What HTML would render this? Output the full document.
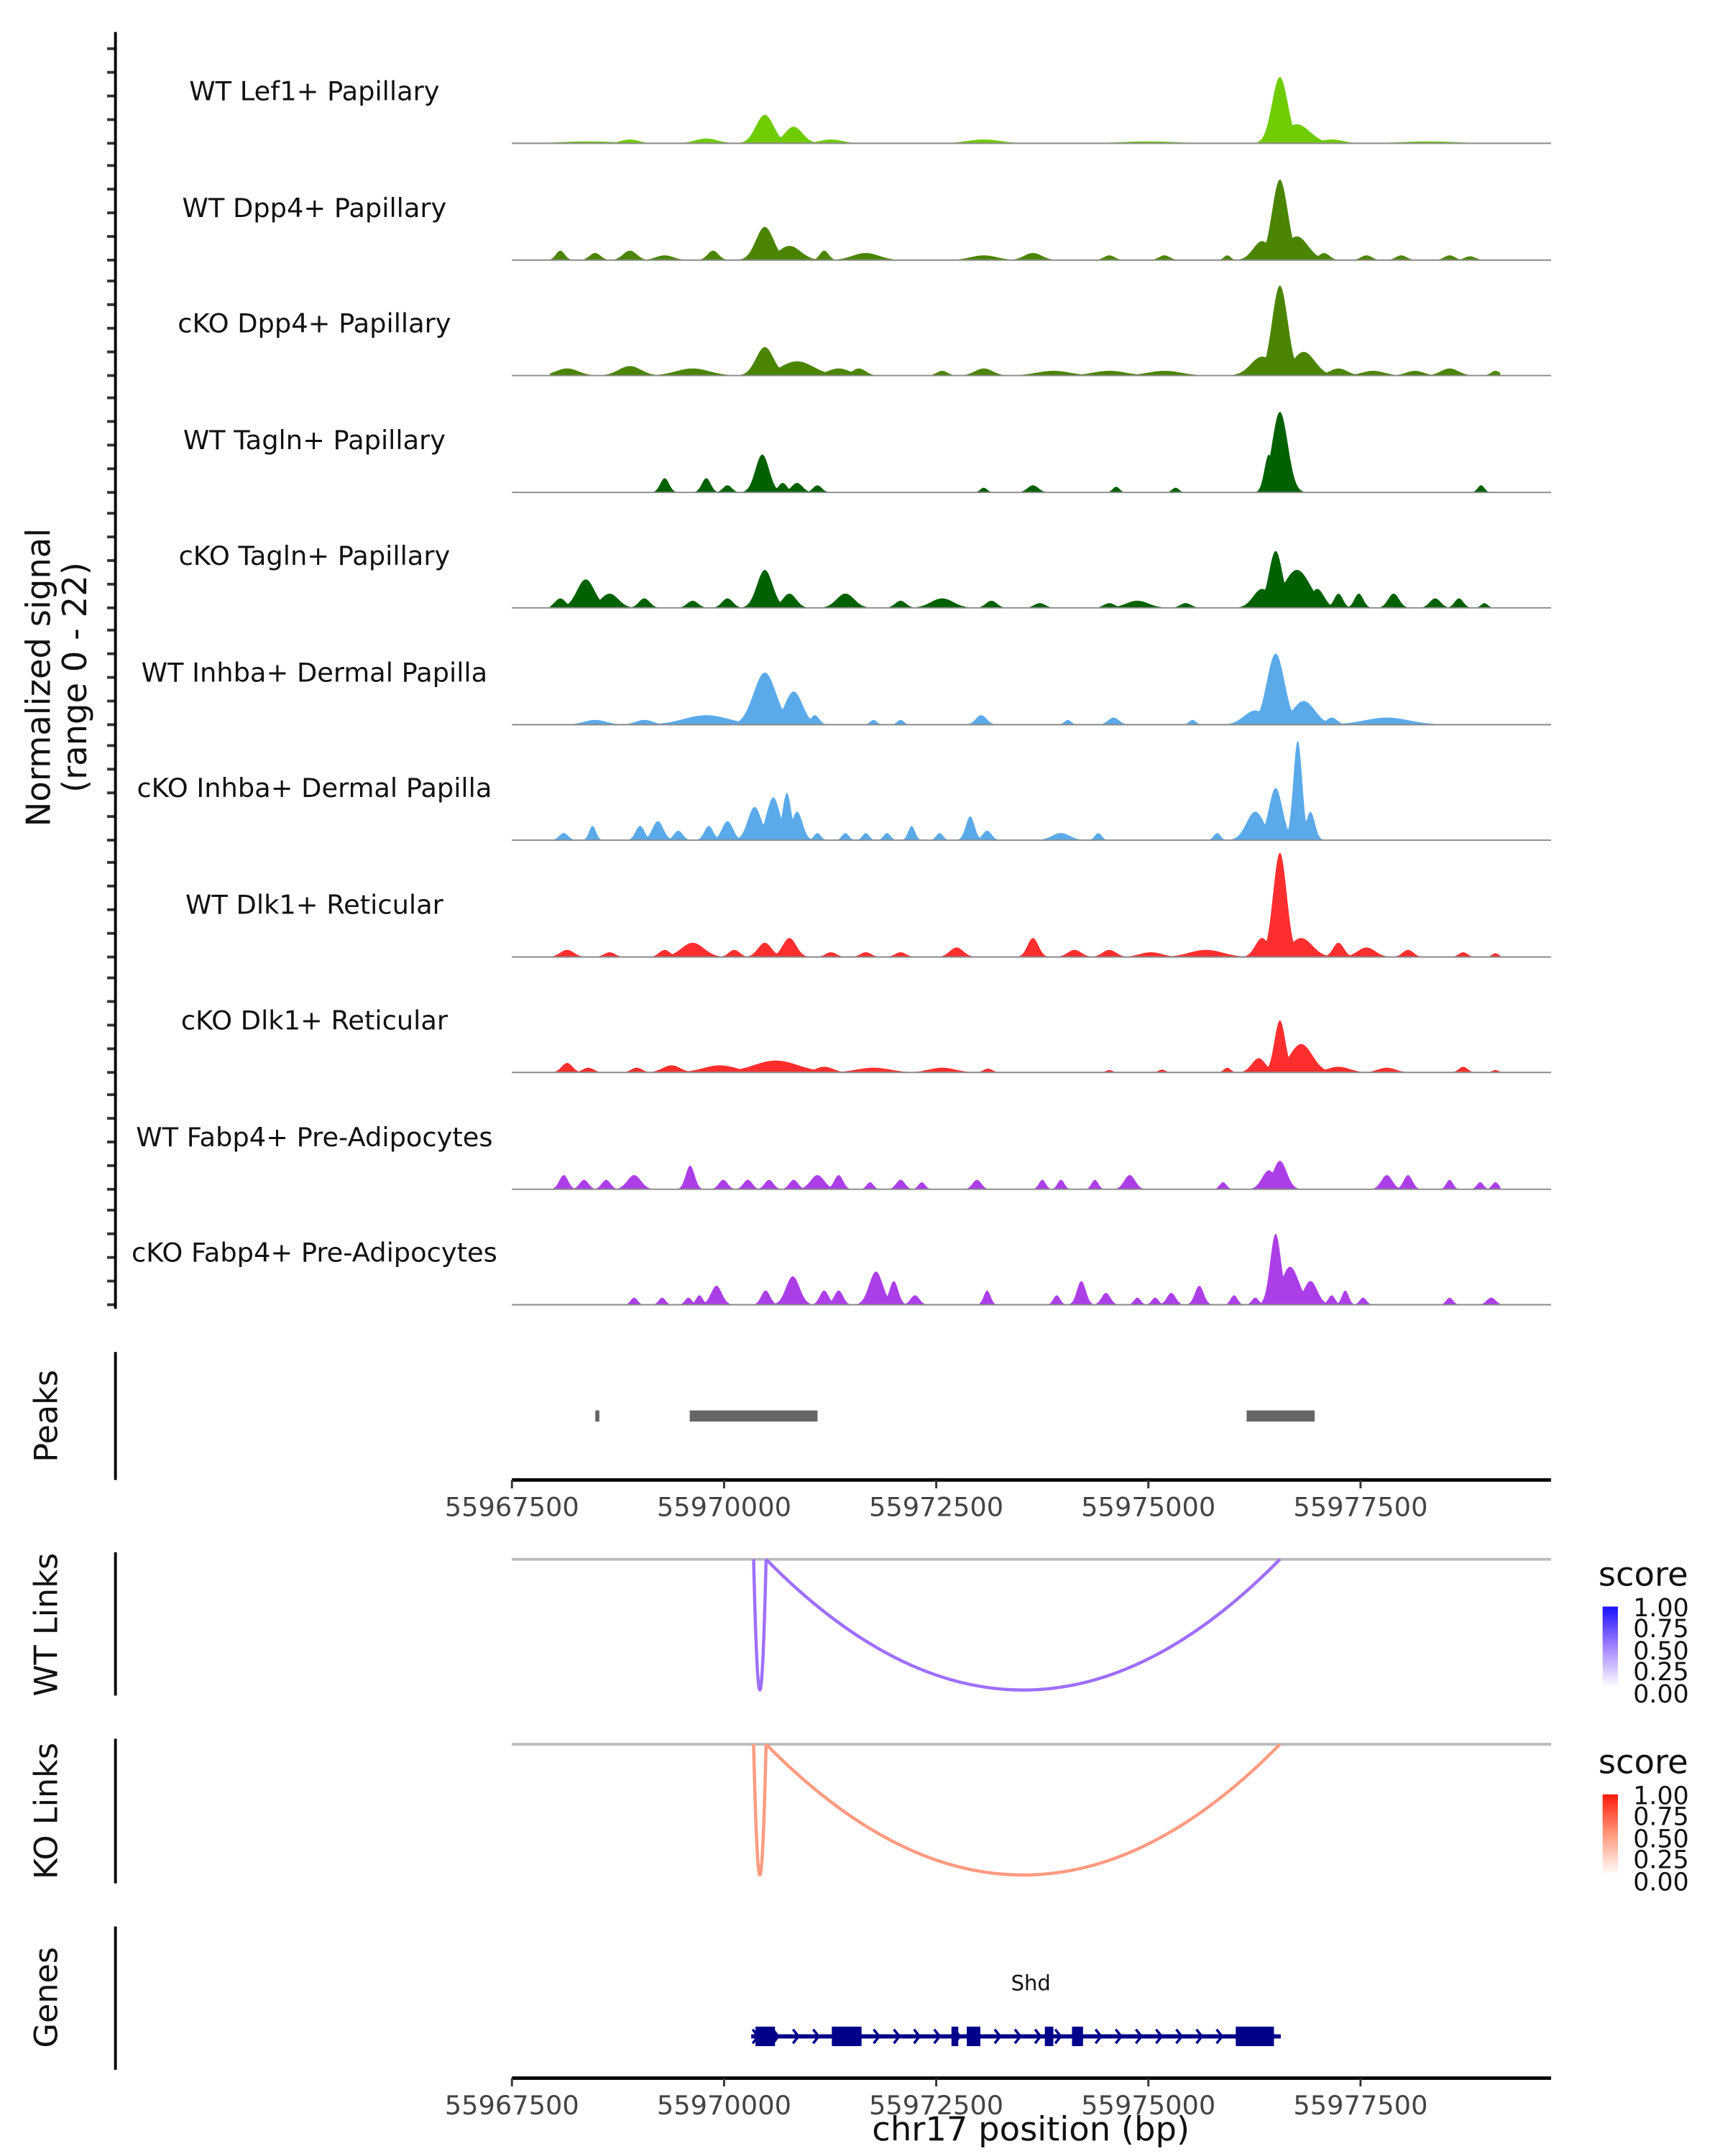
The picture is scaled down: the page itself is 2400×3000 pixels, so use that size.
<!DOCTYPE html>
<html><head><meta charset="utf-8">
<style>
html,body{margin:0;padding:0;background:#fff;}
svg{display:block;font-family:"DejaVu Sans","Liberation Sans",sans-serif;}
</style></head>
<body>
<svg id="chart" xmlns="http://www.w3.org/2000/svg" width="2400" height="3000" viewBox="0 0 1240 1550">
<rect x="0" y="0" width="1240" height="1550" fill="#fff"/>
<g id="tracks"></g>
<text transform="translate(42,487) rotate(-90)" text-anchor="middle" font-size="24" fill="#111"><tspan x="0" dy="-6">Normalized signal</tspan><tspan x="0" dy="26">(range 0 - 22)</tspan></text>
<line x1="83" y1="23" x2="83" y2="941" stroke="#000" stroke-width="2"/>
<!-- Peaks -->
<line x1="83" y1="972" x2="83" y2="1064" stroke="#000" stroke-width="2"/>
<text transform="translate(41,1018) rotate(-90)" text-anchor="middle" font-size="23" fill="#111">Peaks</text>
<g id="peaks"></g>
<g id="axis1"></g>
<!-- WT links -->
<line x1="83" y1="1116" x2="83" y2="1219" stroke="#000" stroke-width="2"/>
<text transform="translate(41,1168) rotate(-90)" text-anchor="middle" font-size="23" fill="#111">WT Links</text>
<line x1="368" y1="1121" x2="1115" y2="1121" stroke="#bbb" stroke-width="2"/>
<g id="wtlinks"></g>
<!-- KO links -->
<line x1="83" y1="1250" x2="83" y2="1354" stroke="#000" stroke-width="2"/>
<text transform="translate(41,1302) rotate(-90)" text-anchor="middle" font-size="23" fill="#111">KO Links</text>
<line x1="368" y1="1254" x2="1115" y2="1254" stroke="#bbb" stroke-width="2"/>
<g id="kolinks"></g>
<!-- legends -->
<defs>
<linearGradient id="gBlue" x1="0" y1="1" x2="0" y2="0"><stop offset="0" stop-color="#ffffff"/><stop offset="0.5" stop-color="#a383ff"/><stop offset="1" stop-color="#1a10ff"/></linearGradient>
<linearGradient id="gRed" x1="0" y1="1" x2="0" y2="0"><stop offset="0" stop-color="#ffffff"/><stop offset="0.5" stop-color="#ff9a7d"/><stop offset="1" stop-color="#ff1a0a"/></linearGradient>
</defs>
<g>
<text x="1149" y="1140" font-size="24" fill="#111">score</text>
<rect x="1152" y="1155" width="11" height="58" fill="url(#gBlue)"/>
<g font-size="18" fill="#111"><text x="1174" y="1162">1.00</text><text x="1174" y="1177">0.75</text><text x="1174" y="1193">0.50</text><text x="1174" y="1208">0.25</text><text x="1174" y="1224">0.00</text></g>
</g>
<g>
<text x="1149" y="1275" font-size="24" fill="#111">score</text>
<rect x="1152" y="1290" width="11" height="58" fill="url(#gRed)"/>
<g font-size="18" fill="#111"><text x="1174" y="1297">1.00</text><text x="1174" y="1312">0.75</text><text x="1174" y="1328">0.50</text><text x="1174" y="1343">0.25</text><text x="1174" y="1359">0.00</text></g>
</g>
<!-- genes -->
<line x1="83" y1="1385" x2="83" y2="1488" stroke="#000" stroke-width="2"/>
<text transform="translate(41,1436) rotate(-90)" text-anchor="middle" font-size="23" fill="#111">Genes</text>
<text x="741" y="1431" text-anchor="middle" font-size="15" fill="#111">Shd</text>
<g id="gene"></g>
<g id="axis2"></g>
<text x="741" y="1539" text-anchor="middle" font-size="24" fill="#111">chr17 position (bp)</text>
</svg>
<script>
const REGION_START = 55967500;
const trackNames = ["WT Lef1+ Papillary","WT Dpp4+ Papillary","cKO Dpp4+ Papillary","WT Tagln+ Papillary","cKO Tagln+ Papillary","WT Inhba+ Dermal Papilla","cKO Inhba+ Dermal Papilla","WT Dlk1+ Reticular","cKO Dlk1+ Reticular","WT Fabp4+ Pre-Adipocytes","cKO Fabp4+ Pre-Adipocytes"];
const trackColors = ["#6fcc00","#4b8500","#4b8500","#006100","#006100","#5aaaea","#5aaaea","#ff2e2e","#ff2e2e","#ac3ee8","#ac3ee8"];
// peaks: [offset from REGION_START in kb, height (signal units), half-width bp]
const peaksLef1 = [[0.9,0.4,400],[1.39,0.8,130],[2.29,1,165],[2.98,6,130],[3.32,3.5,130],[3.76,0.8,165],[5.56,0.8,245],[7.5,0.4,400],[9.05,14,115],[9.25,4,195],[9.66,0.8,165],[10.8,0.4,400]];
const peaksWTDpp4 = [[0.57,2,65],[0.98,1.5,80],[1.39,2,100],[1.8,1,130],[2.37,2,80],[2.98,7,130],[3.27,3,165],[3.68,2,65],[4.17,1.5,195],[5.56,1,195],[6.14,1.5,130],[7.04,1,80],[7.69,1,80],[8.43,1,50],[8.84,4,130],[9.05,17,115],[9.25,5,165],[9.57,1.5,80],[10.07,1,80],[10.48,1,80],[11.05,1,80],[11.29,0.8,80]];
const peaksKODpp4 = [[0.65,1.5,165],[1.39,2,165],[2.13,1.5,245],[2.98,6,130],[3.36,3,245],[3.85,1.5,165],[4.09,1.5,100],[5.07,1,80],[5.56,1.5,130],[6.38,1,245],[7.04,1,245],[7.69,1,245],[8.84,4,165],[9.05,19,115],[9.33,5,165],[9.74,1.5,130],[10.15,1,165],[10.64,1,130],[11.05,1.5,130],[11.59,1,65]];
const peaksWTTagln = [[1.8,3,65],[2.29,3,65],[2.54,1.5,65],[2.95,8,100],[3.19,2,65],[3.36,2,80],[3.6,1.5,65],[5.56,1,50],[6.14,1.5,80],[7.12,1.2,50],[7.82,1,50],[8.92,8,65],[9.05,17,115],[11.42,1.5,50]];
const peaksKOTagln = [[0.57,2,80],[0.87,6,130],[1.15,3,130],[1.56,2,80],[2.13,1.5,80],[2.54,2,80],[2.98,8,115],[3.27,3,100],[3.93,3,130],[4.58,1.5,80],[5.07,2,165],[5.65,1.5,80],[6.22,1,80],[7.04,1,80],[7.37,1.5,165],[7.94,1,80],[8.84,4,130],[9.0,12,100],[9.25,8,195],[9.49,4,100],[9.74,3,65],[9.98,3,65],[10.39,3,80],[10.88,2,80],[11.16,2,65],[11.46,1,50]];
const peaksWTInhba = [[0.98,1,165],[1.56,1,130],[2.29,2,330],[2.98,11,165],[3.32,7,130],[3.57,2,65],[4.26,1,50],[4.58,1,50],[5.53,2,80],[6.55,1,50],[7.09,1.5,80],[8.02,1,50],[8.76,3,165],[9.0,15,130],[9.33,5,165],[9.66,1.5,80],[10.31,1.5,330]];
const peaksKOInhba = [[0.61,1.5,65],[0.95,3,50],[1.51,3,65],[1.72,4,80],[1.96,2,65],[2.32,3,65],[2.54,4,80],[2.86,7,100],[3.08,9,100],[3.24,10,65],[3.36,6,80],[3.6,1.5,50],[3.93,1.5,50],[4.17,1.5,50],[4.42,1.5,50],[4.71,3,50],[5.04,1.5,50],[5.4,5,65],[5.6,2,65],[6.47,1.5,130],[6.91,1.5,50],[8.31,1.5,50],[8.76,6,130],[9.0,11,100],[9.26,21,65],[9.41,6,65]];
const peaksWTDlk1 = [[0.65,1.5,100],[1.15,1,80],[1.8,1.5,80],[2.13,3,165],[2.62,1.5,80],[2.98,3,100],[3.27,4,100],[3.76,1,80],[4.17,1,80],[4.58,1,80],[5.24,2,100],[6.14,4,80],[6.63,1.5,100],[7.04,1.5,100],[7.53,1,165],[8.18,1.5,245],[8.84,4,100],[9.05,22,100],[9.3,4,165],[9.74,3,80],[10.07,2,130],[10.56,1.5,80],[11.21,1,65],[11.59,0.8,50]];
const peaksKODlk1 = [[0.65,2,80],[0.9,1,80],[1.47,1,80],[1.88,1.5,130],[2.45,1.5,245],[3.11,2.5,330],[3.68,1.2,130],[4.26,1,245],[5.07,1,195],[5.61,0.8,65],[7.04,0.5,50],[7.66,0.6,50],[8.43,1,50],[8.8,3,100],[9.05,11,80],[9.3,6,165],[9.74,1.2,165],[10.31,1,130],[11.21,1.2,65],[11.59,0.5,50]];
const peaksWTFabp4 = [[0.61,3,65],[0.85,2,65],[1.11,2,65],[1.44,3,100],[2.1,5,65],[2.49,2,65],[2.78,2,65],[3.03,2,65],[3.32,2,65],[3.6,3,100],[3.85,3,65],[4.22,1.5,50],[4.58,2,65],[4.83,1.5,50],[5.48,2,65],[6.25,2,50],[6.47,2,50],[6.87,2,50],[7.28,3,80],[8.38,1.5,50],[8.92,4,100],[9.05,6,100],[10.31,3,80],[10.56,3,65],[11.05,2,50],[11.41,1.5,50],[11.59,1.5,50]];
const peaksKOFabp4 = [[1.44,1.5,50],[1.77,1.5,50],[2.08,1.5,50],[2.21,2,50],[2.41,4,80],[2.99,3,65],[3.31,6,100],[3.68,3,65],[3.85,3,65],[4.29,7,100],[4.5,5,65],[4.75,2,65],[5.6,3,50],[6.42,2,50],[6.71,5,65],[7.0,2.5,65],[7.37,1.5,50],[7.58,1.5,50],[7.77,2.5,65],[8.1,4,65],[8.51,2,50],[8.76,1.5,50],[9.0,15,80],[9.17,8,130],[9.41,5,100],[9.66,2,50],[9.82,3,50],[10.03,1.5,50],[11.05,1.5,50],[11.54,1.5,65]];
const trackPeaks = [peaksLef1,peaksWTDpp4,peaksKODpp4,peaksWTTagln,peaksKOTagln,peaksWTInhba,peaksKOInhba,peaksWTDlk1,peaksKODlk1,peaksWTFabp4,peaksKOFabp4];
// peak regions [start bp, end bp]
const peakRegions = [[55968482,55968530],[55969595,55971101],[55976158,55976960]];
// links [start bp, end bp, score]
const wtLinks = [[55970348,55970495,0.6],[55970495,55976551,0.55]];
const koLinks = [[55970348,55970495,0.6],[55970495,55976551,0.45]];
// gene Shd exons [start bp, end bp]
const geneStart = 55970320, geneEnd = 55976560;
const exons = [[55970370,55970600],[55971270,55971620],[55972680,55972760],[55972860,55973020],[55973780,55973880],[55974100,55974230],[55976030,55976480]];
const xTicks = [55967500,55970000,55972500,55975000,55977500];

const NS="http://www.w3.org/2000/svg";
const X0=368, PXPERBP=152.5/2500;
function xs(bp){return X0+(bp-REGION_START)*PXPERBP;}
const YMAX=22, THEIGHT=75;
function mk(tag,attrs,parent){const e=document.createElementNS(NS,tag);for(const k in attrs)e.setAttribute(k,attrs[k]);parent.appendChild(e);return e;}

const tracksG=document.getElementById('tracks');
const baselines=[103,187,270,354,437,521,604,688,771,855,938];
trackNames.forEach((name,i)=>{
  const b=baselines[i];
  const g=mk('g',{},tracksG);
  
  
  for(let k=0;k<5;k++){
    const t=mk('line',{x1:77,x2:83,y1:b-k*17,y2:b-k*17,stroke:'#333','stroke-width':2},g);
    
    
  }
  const lab=mk('text',{x:226,y:b-31,'text-anchor':'middle','font-size':19,fill:'#111'},g);
  lab.textContent=name;
  
  
  const pk=trackPeaks[i];
  let d='M'+xs(55967950)+','+b;
  for(let bp=55967950;bp<=55979150;bp+=12){
    let v=0;
    for(const p of pk){const c=REGION_START+p[0]*1000;const s=p[2]/1.25;const dd=(bp-c)/s;if(Math.abs(dd)<3){const w=p[1]*Math.exp(-0.5*dd*dd);if(w>v)v=w;}}
    if(v<0.12)v=0;
    d+='L'+xs(bp).toFixed(2)+','+(b-v/YMAX*THEIGHT).toFixed(2);
  }
  d+='L'+xs(55979150)+','+b+'Z';
  const area=mk('path',{d:d,fill:trackColors[i]},g);
  
  
  const bl=mk('line',{x1:368,x2:1115,y1:b,y2:b,stroke:'#8a8a8a','stroke-width':1},g);
  
  
});

const peaksG=document.getElementById('peaks');
peakRegions.forEach(r=>{
  const e=mk('rect',{x:xs(r[0]),y:1014,width:Math.max(2.5,xs(r[1])-xs(r[0])),height:8,fill:'#666'},peaksG);
  
  
});

function axis(gid,y){
  const g=document.getElementById(gid);
  const l=mk('line',{x1:368,x2:1115,y1:y,y2:y,stroke:'#000','stroke-width':2.5},g);
  
  
  xTicks.forEach(t=>{
    const tk=mk('line',{x1:xs(t),x2:xs(t),y1:y,y2:y+6,stroke:'#333','stroke-width':1.5},g);
    
    
    const tx=mk('text',{x:xs(t),y:y+26,'text-anchor':'middle','font-size':19,fill:'#444'},g);
    tx.textContent=t;
    
    
  });
}
axis('axis1',1064);
axis('axis2',1494);

function links(gid,arr,y0,color){
  const g=document.getElementById(gid);
  arr.forEach(l=>{
    const a=xs(l[0]),b=xs(l[1]),m=(a+b)/2;
    const e=mk('path',{d:`M${a},${y0} Q${m},${y0+188} ${b},${y0}`,fill:'none',stroke:color,'stroke-width':2.3},g);
    
    
  });
}
links('wtlinks',wtLinks,1121,'#9f6fff');
links('kolinks',koLinks,1254,'#ff9b80');

const geneG=document.getElementById('gene');
const gl=mk('line',{x1:xs(geneStart),x2:xs(geneEnd),y1:1464,y2:1464,stroke:'#00008b','stroke-width':3},geneG);


for(let x=xs(geneStart)+3;x<xs(geneEnd)-4;x+=14.5){
  const c=mk('path',{d:`M${x-2},${1459} L${x+2},${1464} L${x-2},${1469}`,fill:'none',stroke:'#00008b','stroke-width':1.8},geneG);
  
  
}
exons.forEach(e=>{
  const r=mk('rect',{x:xs(e[0]),y:1457,width:xs(e[1])-xs(e[0]),height:14,fill:'#00008b'},geneG);
  
  
});
</script>
</body></html>
